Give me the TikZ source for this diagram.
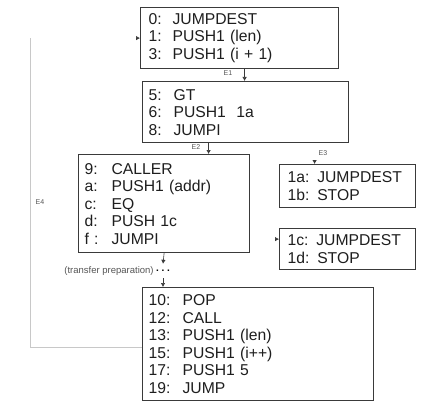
\documentclass[tikz,border=0pt]{standalone}
\usepackage{fontspec}
\setmainfont{Liberation Sans}
\usetikzlibrary{arrows.meta,positioning}
\definecolor{boxline}{HTML}{3A3A3A}
\definecolor{optext}{HTML}{1E1E1E}
\definecolor{edgelbl}{HTML}{555555}
\definecolor{loopline}{HTML}{C8C8C8}
\newcommand{\opln}[3]{\makebox[#1pt][l]{#2}#3}

\begin{document}
\begin{tikzpicture}[x=1pt,y=-1pt,
    blk/.style={draw=boxline, line width=1.2pt, anchor=north west, align=left,
        inner xsep=6pt, inner ysep=0pt, text=optext,
        font=\fontsize{15.7}{17.5}\selectfont},
    arr/.style={-{Latex[length=4pt,width=4.5pt]}, line width=0.6pt, boxline},
    elbl/.style={font=\fontsize{7}{8}\selectfont, text=edgelbl, inner sep=0pt}]
    \useasboundingbox (0,0) rectangle (436,409);
    % blocks
    \node[blk, inner xsep=8pt, text width=182pt, minimum height=61pt] (A) at (140,7)
        {\opln{24}{0:}{JUMPDEST}\\ \opln{24}{1:}{PUSH1 (len)}\\ \opln{24}{3:}{PUSH1 (i + 1)}};
    \node[blk, text width=194pt, minimum height=61pt] (B) at (142,81)
        {\opln{25}{5:}{GT}\\ \opln{25}{6:}{PUSH1\ \ 1a}\\ \opln{25}{8:}{JUMPI}};
    \node[blk, text width=159pt, minimum height=98pt] (C) at (78,154)
        {\opln{27}{9:}{CALLER}\\ \opln{27}{a:}{PUSH1 (addr)}\\ \opln{27}{c:}{EQ}\\
         \opln{27}{d:}{PUSH 1c}\\ \opln{27}{f :}{JUMPI}};
    \node[blk, inner xsep=8pt, text width=120pt, minimum height=43pt] (D) at (279,164)
        {1a: JUMPDEST\\ 1b: STOP};
    \node[blk, inner xsep=8pt, text width=120pt, minimum height=41pt] (E) at (279,228)
        {1c: JUMPDEST\\ 1d: STOP};
    \node[blk, text width=219pt, minimum height=113pt] (F) at (142,287)
        {\opln{34}{10:}{POP}\\ \opln{34}{12:}{CALL}\\ \opln{34}{13:}{PUSH1 (len)}\\
         \opln{34}{15:}{PUSH1 (i++)}\\ \opln{34}{17:}{PUSH1 5}\\ \opln{34}{19:}{JUMP}};
    % transfer step
    \node[inner sep=0pt, minimum height=14pt, font=\bfseries] (dots) at (163,271) {.\;.\;.};
    \node[left=2pt of dots, inner sep=0pt, font=\fontsize{9.5}{11}\selectfont, text=edgelbl] (prep)
        {(transfer preparation)};
    % edges
    \draw[arr] ([xshift=5pt]A.south) -- ([xshift=5pt]A.south |- B.north);
    \node[elbl] (e1) at (228,73) {E1};
    \draw[arr] ([xshift=-37pt]B.south) -- ([xshift=-37pt]B.south |- C.north);
    \node[elbl] (e2) at (196,147) {E2};
    \draw[arr] ([xshift=-33pt,yshift=4pt]D.north) -- ([xshift=-33pt]D.north);
    \node[elbl] (e3) at (323,153) {E3};
    \draw[arr] (C.south) -- (dots.north);
    \draw[arr] (dots.south) -- (dots.south |- F.north);
    \draw[arr] ([xshift=-4pt,yshift=10pt]E.west) -- ([yshift=10pt]E.west);
    % back edge
    \draw[loopline, line width=0.8pt] ([yshift=-3.5pt]F.west) -| ([xshift=-110pt]A.west);
    \draw[arr] ([xshift=-4pt]A.west) -- (A.west);
    \node[elbl] (e4) at (40,202) {E4};
\end{tikzpicture}
\end{document}
